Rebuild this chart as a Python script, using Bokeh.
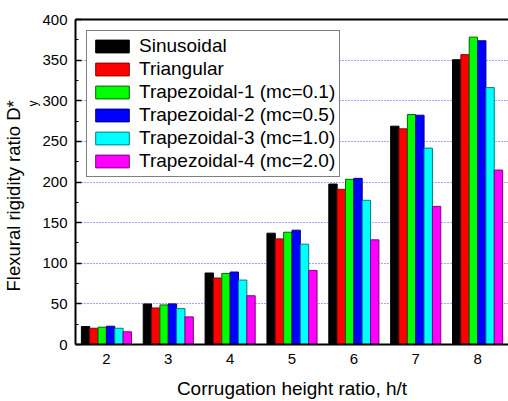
from bokeh.plotting import figure
from bokeh.models import (ColumnDataSource, Range1d, SingleIntervalTicker, FixedTicker,
                          Legend, LegendItem, LinearAxis, Title)
from bokeh.transform import dodge
from bokeh.embed import file_html
from bokeh.resources import INLINE

# ---- data ----
ratios = [2, 3, 4, 5, 6, 7, 8]
sinusoidal = [22.1, 49.9, 88.0, 137.0, 197.5, 268.7, 350.5]
triangular = [20.0, 45.0, 81.8, 130.0, 191.0, 265.4, 356.7]
trapezoidal_1 = [21.3, 48.7, 87.5, 138.2, 203.3, 283.0, 378.3]
trapezoidal_2 = [22.5, 50.0, 89.2, 140.7, 204.5, 282.2, 373.8]
trapezoidal_3 = [20.0, 44.2, 79.3, 123.5, 177.5, 241.7, 316.2]
trapezoidal_4 = [15.6, 34.0, 60.0, 91.2, 128.8, 170.0, 214.7]
series_names = ["Sinusoidal", "Triangular", "Trapezoidal-1 (mc=0.1)",
                "Trapezoidal-2 (mc=0.5)", "Trapezoidal-3 (mc=1.0)", "Trapezoidal-4 (mc=2.0)"]
y_ticks = [0, 50, 100, 150, 200, 250, 300, 350, 400]
x_title = "Corrugation height ratio, h/t"
y_title = "Flexural rigidity ratio D*"
y_title_sub = "y"

series = [sinusoidal, triangular, trapezoidal_1, trapezoidal_2, trapezoidal_3, trapezoidal_4]
fills = ["#000000", "#ff0000", "#00ff00", "#0000ff", "#00ffff", "#ff00ff"]
lines = ["#000000", "#8b0000", "#006400", "#00008b", "#008080", "#800080"]

FONT = "Liberation Sans"
bar_w = 0.135

src = ColumnDataSource(dict(x=ratios, s0=sinusoidal, s1=triangular, s2=trapezoidal_1,
                            s3=trapezoidal_2, s4=trapezoidal_3, s5=trapezoidal_4))

p = figure(width=508, height=401, output_backend="svg", toolbar_location=None,
           x_range=Range1d(1.5, 8.5), y_range=Range1d(y_ticks[0], y_ticks[-1]),
           min_border_left=74, min_border_right=0, min_border_top=19, min_border_bottom=56,
           background_fill_color="white", border_fill_color="white")
p.outline_line_color = None

p.xgrid.visible = False
p.ygrid.ticker = FixedTicker(ticks=y_ticks)
p.ygrid.grid_line_color = "#2a2aff"
p.ygrid.grid_line_dash = "1 2"
p.ygrid.grid_line_width = 1
p.ygrid.grid_line_alpha = 0.85

renderers = []
for i, (fc, lc) in enumerate(zip(fills, lines)):
    r = p.vbar(x=dodge("x", (i - 2.5) * bar_w, range=p.x_range), top=f"s{i}", bottom=0,
               width=bar_w, source=src, fill_color=fc, line_color=lc, line_width=1)
    renderers.append(r)

# y axis
ya = p.yaxis[0]
ya.ticker = SingleIntervalTicker(interval=50, num_minor_ticks=2)
ya.major_tick_in = 6
ya.major_tick_out = 0
ya.minor_tick_in = 3
ya.minor_tick_out = 0
ya.axis_line_width = 2
ya.major_tick_line_width = 1.5
ya.major_label_standoff = 8
ya.major_label_text_font = FONT
ya.major_label_text_font_size = "15px"
ya.major_label_text_color = "black"

# x axis
xa = p.xaxis[0]
xa.ticker = FixedTicker(ticks=ratios)
xa.major_tick_in = 0
xa.major_tick_out = 0
xa.minor_tick_line_color = None
xa.axis_line_width = 2
xa.major_label_standoff = 9
xa.major_label_text_font = FONT
xa.major_label_text_font_size = "15px"
xa.major_label_text_color = "black"
xa.axis_label = x_title
xa.axis_label_text_font = FONT
xa.axis_label_text_font_size = "19px"
xa.axis_label_text_font_style = "normal"
xa.axis_label_text_color = "black"
xa.axis_label_standoff = 11

# top border line
top = LinearAxis(ticker=FixedTicker(ticks=[]), axis_line_width=2,
                 major_tick_line_color=None, minor_tick_line_color=None,
                 major_label_text_font_size="0px", major_label_standoff=0)
p.add_layout(top, "above")

# y axis title: subscript panel next to the axis, then main text
p.add_layout(Title(text=y_title_sub, align="left", offset=238, standoff=0,
                   text_font=FONT, text_font_size="12px", text_font_style="normal",
                   text_color="black"), "left")
p.add_layout(Title(text=y_title, align="left", offset=53, standoff=0,
                   text_font=FONT, text_font_size="18.5px", text_font_style="normal",
                   text_color="black"), "left")

legend = Legend(items=[LegendItem(label=n, renderers=[r]) for n, r in zip(series_names, renderers)],
                location="top_left", margin=11, padding=4, spacing=1,
                glyph_width=42, glyph_height=16, label_height=16, label_standoff=6,
                label_text_font=FONT, label_text_font_size="19px", label_text_color="black",
                border_line_color="black", border_line_width=1.5,
                background_fill_color="white", background_fill_alpha=1)
p.add_layout(legend)

open("out.html", "w").write(file_html(p, INLINE))
